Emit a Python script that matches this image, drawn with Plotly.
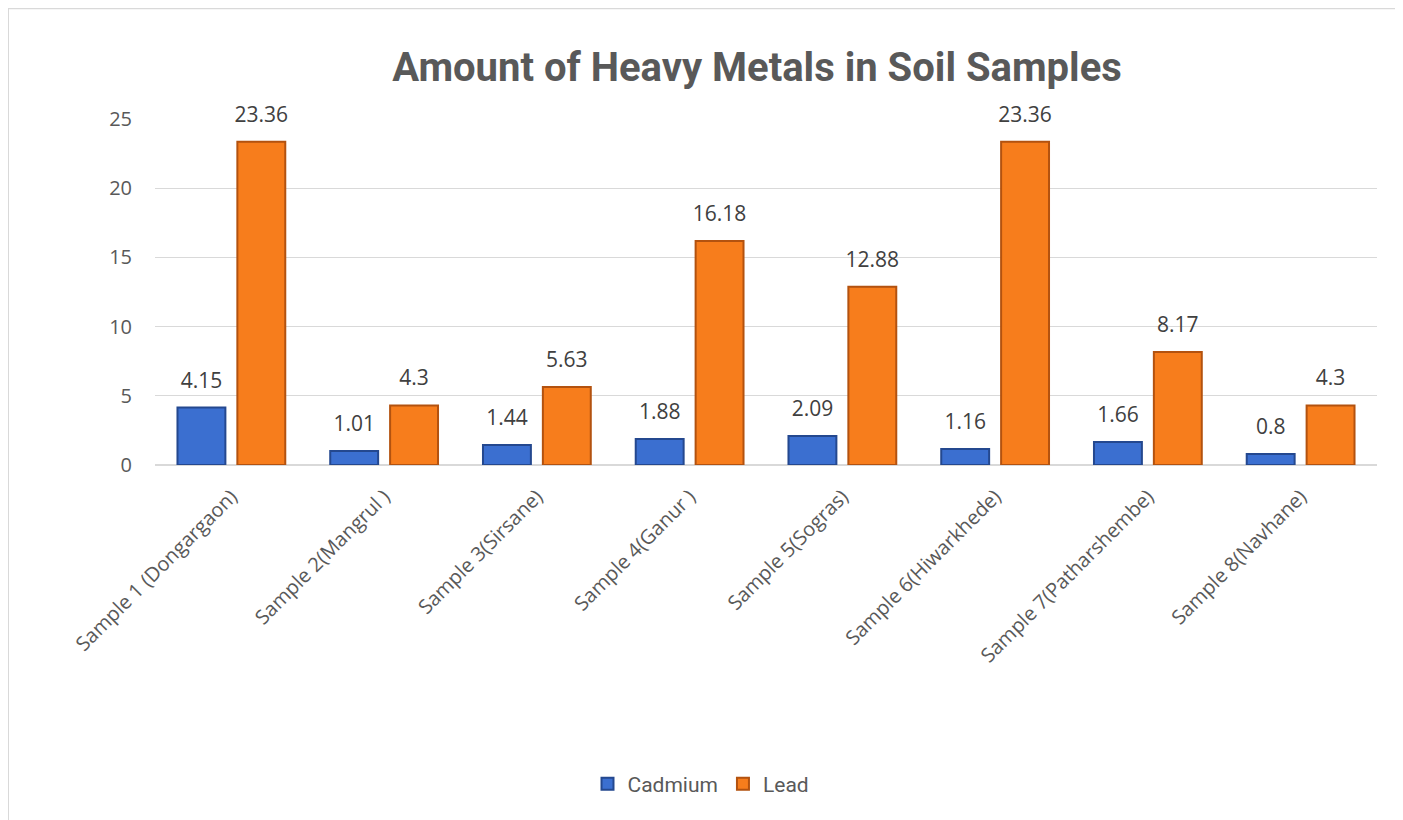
import plotly.graph_objects as go

categories = ["Sample 1 (Dongargaon)", "Sample 2(Mangrul )", "Sample 3(Sirsane)", "Sample 4(Ganur )",
              "Sample 5(Sogras)", "Sample 6(Hiwarkhede)", "Sample 7(Patharshembe)", "Sample 8(Navhane)"]
cadmium = [4.15, 1.01, 1.44, 1.88, 2.09, 1.16, 1.66, 0.8]
lead = [23.36, 4.3, 5.63, 16.18, 12.88, 23.36, 8.17, 4.3]
y_ticks = [0, 5, 10, 15, 20, 25]

label_font = dict(family="Open Sans", size=21, color="#404040")
GAP = 0.216
frame = dict(color="#D9D9D9", width=2)

fig = go.Figure()
fig.add_trace(go.Bar(
    name="Cadmium", x=categories, y=cadmium, offsetgroup="c",
    marker=dict(color="#3B6FD0", line=dict(color="#24488F", width=2)),
))
fig.add_trace(go.Bar(
    name="Lead", x=categories, y=lead, offsetgroup="l",
    marker=dict(color="#F77D1C", line=dict(color="#B3520F", width=2)),
))
for vals, grp in ((cadmium, "c"), (lead, "l")):
    fig.add_trace(go.Scatter(
        x=categories, y=vals, offsetgroup=grp, mode="markers+text",
        marker=dict(size=22, opacity=0), text=[f"{v:g}" for v in vals],
        textposition="top center", textfont=label_font, cliponaxis=False,
        showlegend=False, hoverinfo="skip",
    ))

fig.update_layout(
    width=1403, height=820,
    margin=dict(l=147, r=34, t=111, b=363),
    paper_bgcolor="white", plot_bgcolor="white",
    barmode="group", bargap=GAP, bargroupgap=0.2,
    scattermode="group", scattergap=GAP,
    title=dict(text="<b>Amount of Heavy Metals in Soil Samples</b>",
               font=dict(family="Roboto", size=40, color="#595959"),
               x=749 / 1403, xref="container", xanchor="center",
               y=1 - 59 / 820, yref="container", yanchor="middle"),
    legend=dict(orientation="h", x=693 / 1403, xref="container", xanchor="center",
                y=1 - 776 / 820, yref="container", yanchor="middle",
                font=dict(family="Roboto", size=21, color="#595959"),
                itemwidth=30, traceorder="normal"),
    shapes=[
        dict(type="line", xref="paper", yref="paper", x0=-0.1203, x1=1.5, y0=1.32, y1=1.32,
             line=frame, layer="below"),
        dict(type="line", xref="paper", yref="paper", x0=-0.1203, x1=-0.1203, y0=-1.5, y1=1.32,
             line=frame, layer="below"),
    ],
)
fig.update_yaxes(range=[0, 25], tickvals=y_ticks, showgrid=True, gridcolor="#D9D9D9", gridwidth=1.3,
                 zeroline=True, zerolinecolor="#D9D9D9", zerolinewidth=2,
                 tickfont=dict(family="Open Sans", size=20, color="#595959"),
                 ticks="", ticklabelstandoff=22)
fig.update_xaxes(tickangle=-45, tickfont=dict(family="Open Sans", size=20, color="#595959"),
                 showline=False, ticks="", ticklabelstandoff=15)

fig.write_html("out.html")
